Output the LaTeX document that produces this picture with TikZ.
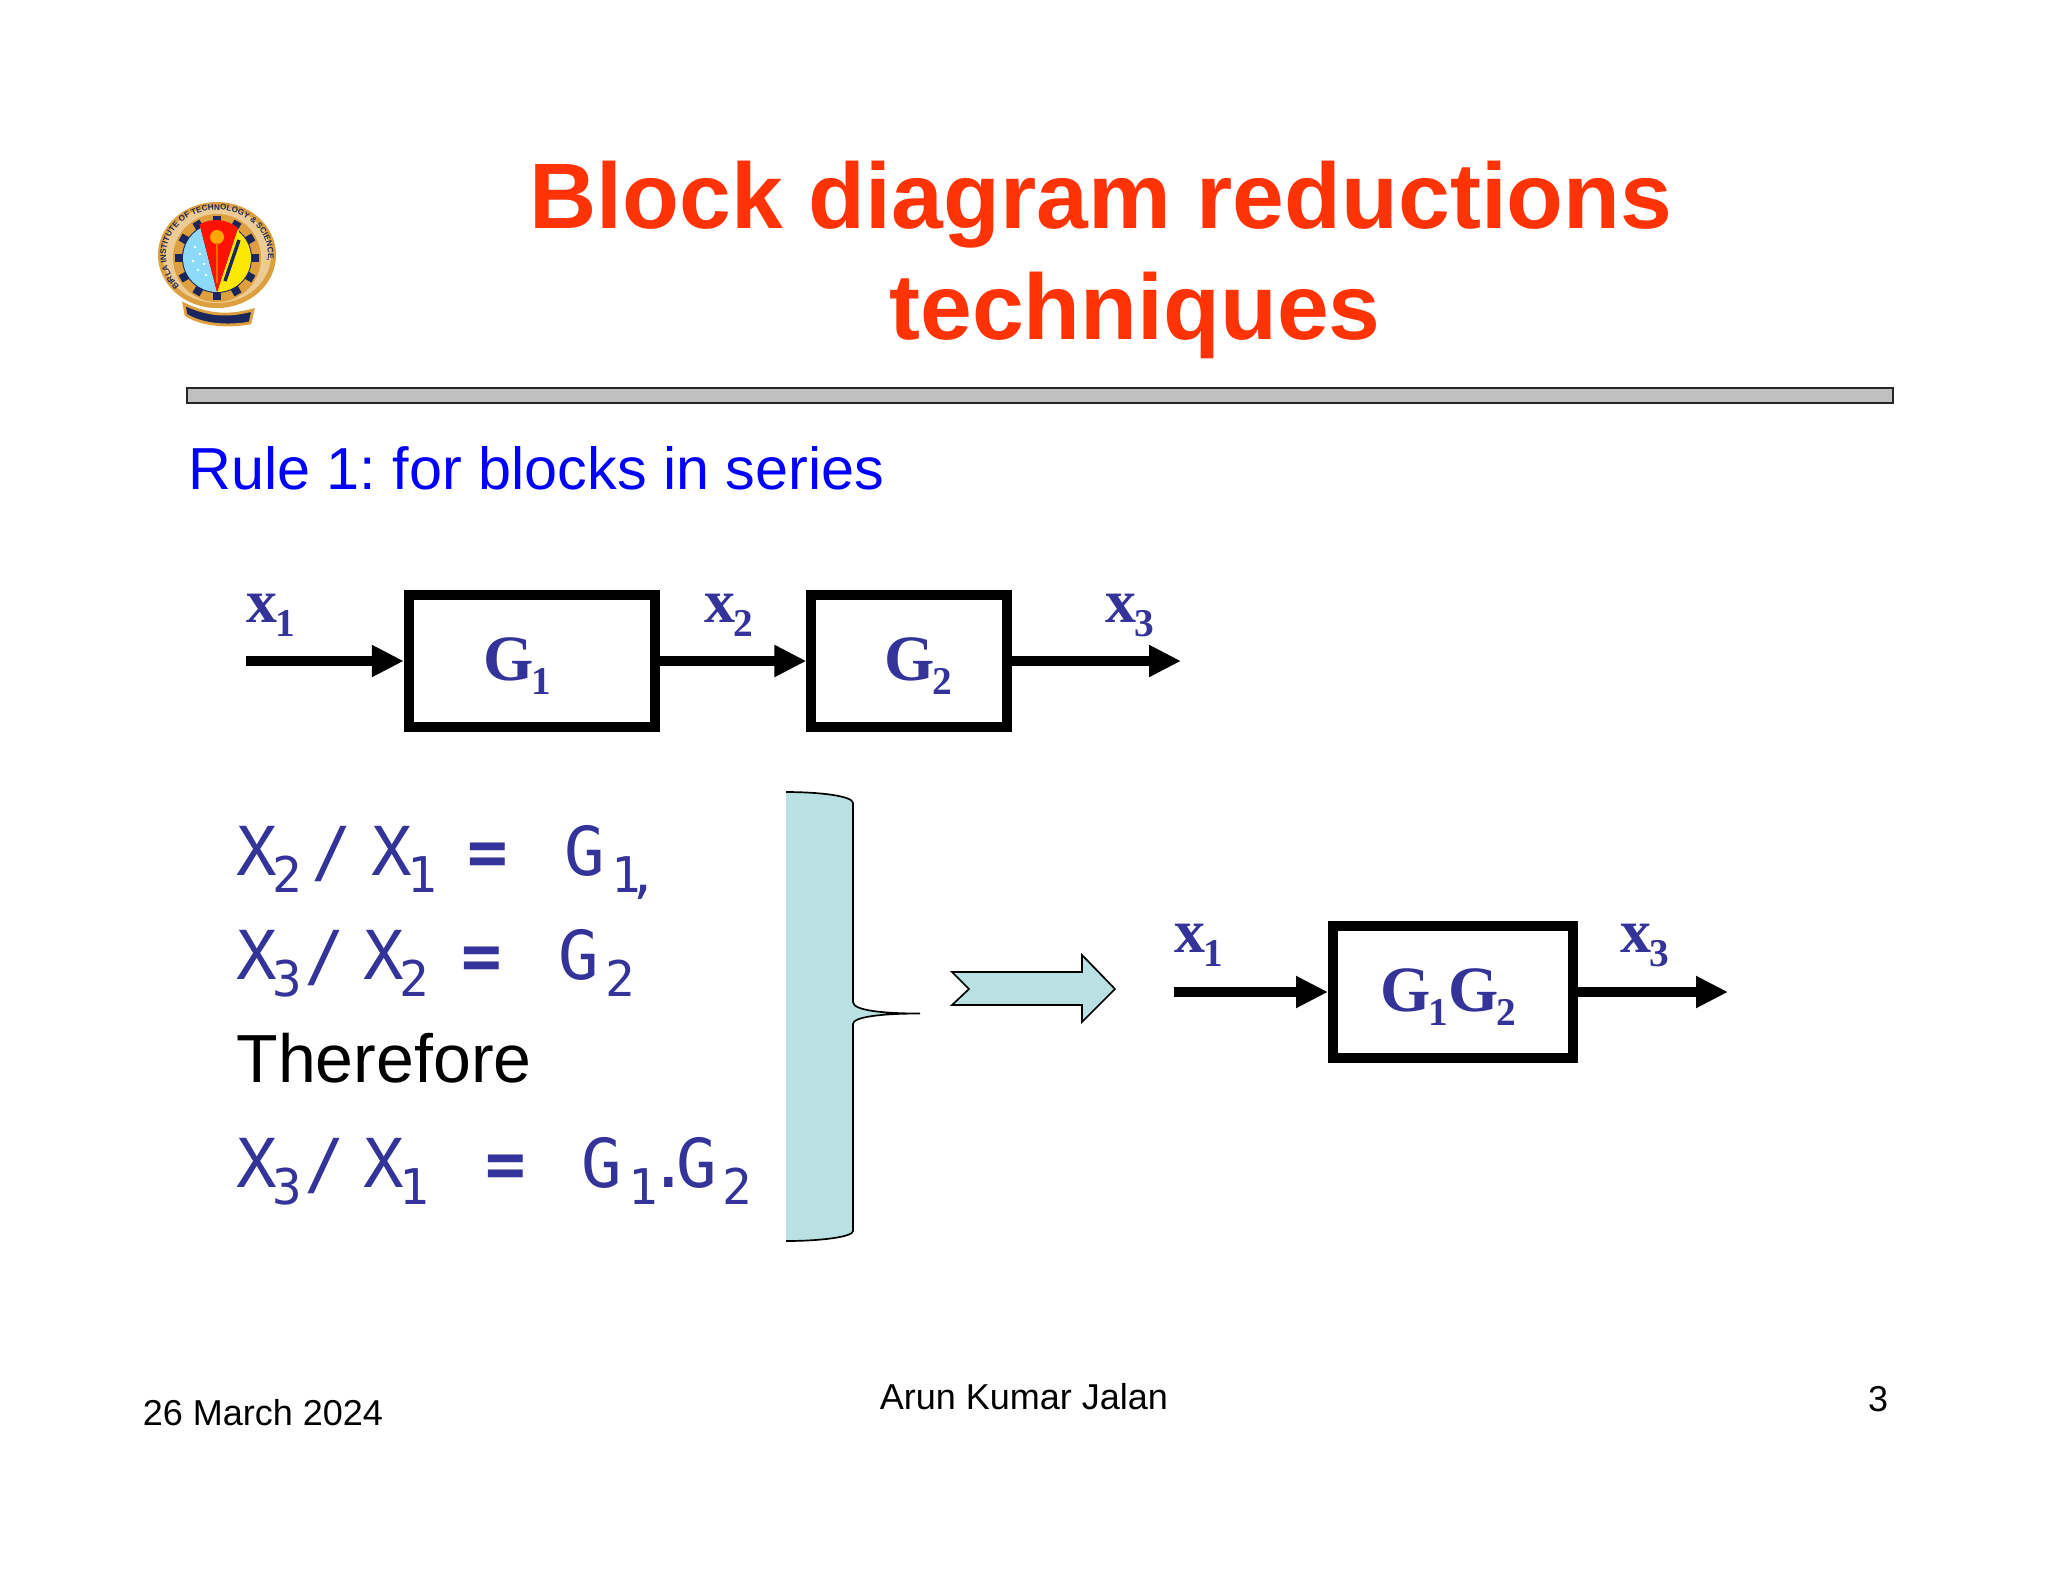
\documentclass[tikz,border=0pt]{standalone}
\usepackage{fontspec}
\usetikzlibrary{arrows.meta,decorations.text}
\setmainfont{Liberation Sans}
\newfontfamily\blockfont{Liberation Serif}[BoldFont={Liberation Serif Bold}]
\newfontfamily\eqfont{DejaVu Sans Mono}[BoldFont={DejaVu Sans Mono Bold}]
\definecolor{titlered}{RGB}{255,51,6}
\definecolor{ruleblue}{RGB}{0,0,255}
\definecolor{sigblue}{RGB}{51,51,153}
\definecolor{bracefill}{RGB}{185,224,226}
\definecolor{bargray}{RGB}{192,192,192}
\definecolor{logonavy}{RGB}{27,38,92}
\definecolor{logogold}{RGB}{222,160,62}
% subscripts of the block labels and of the equations
\newcommand{\bsub}[1]{\hspace{-0.8pt}\raisebox{-5.3pt}{\fontsize{14}{15}\selectfont #1}}
\newcommand{\esub}[1]{\hspace{-1.5pt}\raisebox{-6.2pt}{\fontsize{17.5}{18}\selectfont #1}}
\newcommand{\gsub}[1]{\hspace{2.2pt}\raisebox{-6.2pt}{\fontsize{17.5}{18}\selectfont #1}}

\begin{document}
\begin{tikzpicture}[x=0.125mm,y=-0.125mm,
   blk/.style={draw,line width=3.56pt,inner sep=0pt},
   sig/.style={line width=3.56pt,-{Triangle[length=4mm,width=3.75mm]}},
   lab/.style={anchor=base west,inner sep=0pt,font=\blockfont\bfseries\fontsize{22}{23}\selectfont,text=sigblue},
   gtxt/.style={anchor=base west,inner sep=0pt,font=\blockfont\bfseries\fontsize{23}{24}\selectfont,text=sigblue},
   eqn/.style={anchor=base west,inner sep=0pt,font=\eqfont\fontsize{24}{25}\selectfont,text=sigblue},
   eqs/.style={anchor=base west,inner sep=0pt,font=\eqfont\bfseries\fontsize{24}{25}\selectfont,text=sigblue},
   ttl/.style={anchor=base,inner sep=0pt,text=titlered,font=\bfseries\fontsize{33.1}{34}\selectfont},
   foot/.style={anchor=base,inner sep=0pt,font=\fontsize{12.8}{14}\selectfont}]
\fill[white] (0,0) rectangle (2048,1582);
\useasboundingbox (0,0) rectangle (2048,1582);

%% ---- title and bar ----
\node[ttl] (title1) at (1101,228) {Block diagram reductions};
\node[ttl] (title2) at (1135,339) {techniques};
\fill[bargray,draw=black!85,line width=0.6pt] (187,388) rectangle (1893,403);
\node[anchor=base west,inner sep=0pt,text=ruleblue,font=\fontsize{21.1}{22}\selectfont] (rule) at (188,489) {Rule 1:\hspace{-2pt} for blocks in series};

%% ---- logo ----
\begin{scope}[shift={(217,255)}]
  \fill[logogold] (0,0) ellipse [x radius=59,y radius=53];
  \fill[white!45!logogold] (0,0) ellipse [x radius=54,y radius=48];
  \fill[logogold] (0,3) circle [radius=44];
  \foreach \a in {0,30,...,330}
    \fill[logonavy,rotate around={\a:(0,3)}] (-4,-39) rectangle (4,-29);
  \fill[logonavy] (0,3) circle [radius=35];
  \fill[cyan!45!white] (-17,-29) -- (0,37) arc [start angle=90,end angle=240,radius=34] -- cycle;
  \fill[yellow!90!orange] (21,-27) -- (0,37) arc [start angle=90,end angle=-50,radius=34] -- cycle;
  \fill[red!85!orange] (-17,-29) -- (0,37) -- (21,-27) arc [start angle=-50,end angle=-120,radius=34] -- cycle;
  \foreach \px/\py in {-22/-8,-17/-1,-24/6,-13/9,-19/15,-11/20}
    \fill[white] (\px,\py) circle [radius=1.4];
  \fill[orange!70!yellow] (0,-18) circle [radius=7];
  \draw[orange!80!red,line width=1pt] (0,-12) -- (0,28);
  \draw[logonavy,line width=1.2pt] (22,-15) -- (8,26);
  \fill[logonavy,draw=logogold,line width=1pt] (-33,49) .. controls (-10,60) and (10,62) .. (36,55)
     -- (33,68) .. controls (10,72) and (-15,70) .. (-31,60) -- cycle;
  \path[decorate,decoration={text along path,text align=center,
     text={|\fontsize{2.9}{3}\selectfont\bfseries\color{logonavy}|BIRLA INSTITUTE OF TECHNOLOGY {\&} SCIENCE, PILANI}}]
     (0,0) ++(170:51 and 45) arc [start angle=170,end angle=370,x radius=51,y radius=45];
\end{scope}

%% ---- blocks in series ----
\coordinate (in) at (246,661);
\coordinate (out) at (1181,661);
\node[blk,minimum width=30.8mm,minimum height=16.5mm] (g1) at (532,661) {};
\node[blk,minimum width=24.4mm,minimum height=16.5mm] (g2) at (909,661) {};
\node[gtxt] (g1txt) at (483,680) {G\bsub{1}};
\node[gtxt] (g2txt) at (884,680) {G\bsub{2}};
\draw[sig] (in) -- (g1);
\draw[sig] (g1) -- (g2);
\draw[sig] (g2) -- (out);
\node[lab] (x1) at (246,622) {x\bsub{1}};
\node[lab] (x2) at (704,622) {x\bsub{2}};
\node[lab] (x3) at (1105,622) {x\bsub{3}};

%% ---- equations ----
\node[eqn] (e1a) at (236,875) {X\esub{2}\hspace{3pt}/\hspace{7pt}X\esub{1}};
\node[eqs] (e1b) at (467,875) {=};
\node[eqn] (e1c) at (564,875) {G\gsub{1\hspace{-4.5pt},}};
\node[eqn] (e2a) at (236,979) {X\esub{3}\hspace{0.6pt}/\hspace{6.5pt}X\esub{2}};
\node[eqs] (e2b) at (461,979) {=};
\node[eqn] (e2c) at (558,979) {G\gsub{2}};
\node[anchor=base west,inner sep=0pt,font=\fontsize{24.2}{25}\selectfont] (e3) at (236,1082) {Therefore};
\node[eqn] (e4a) at (236,1187) {X\esub{3}\hspace{0.6pt}/\hspace{6.5pt}X\esub{1}};
\node[eqs] (e4b) at (485,1187) {=};
\node[eqn] (e4c) at (581,1187) {G\gsub{1}\hspace{-3.5pt}.\hspace{-4.5pt}G\gsub{2}};

%% ---- brace and hollow arrow ----
\fill[bracefill] (786,792) .. controls (820,792) and (853,796) .. (853,803) -- (853,1002)
   .. controls (853,1010) and (880,1013.5) .. (920,1013.5) .. controls (880,1013.5) and (853,1017) .. (853,1024)
   -- (853,1231) .. controls (853,1237) and (820,1241) .. (786,1241) -- cycle;
\draw[line width=0.6pt] (786,792) .. controls (820,792) and (853,796) .. (853,803) -- (853,1002)
   .. controls (853,1010) and (880,1013.5) .. (920,1013.5) .. controls (880,1013.5) and (853,1017) .. (853,1024)
   -- (853,1231) .. controls (853,1237) and (820,1241) .. (786,1241);
\draw[fill=bracefill,line width=0.6pt] (952,972) -- (1082,972) -- (1082,955) -- (1115,989) -- (1082,1022) -- (1082,1005)
   -- (952,1005) -- (969,989) -- cycle;

%% ---- reduced block ----
\coordinate (inb) at (1174,992);
\coordinate (outb) at (1728,992);
\node[blk,minimum width=30mm,minimum height=16.4mm] (g12) at (1453,992) {};
\node[gtxt] (g12txt) at (1380,1011) {G\bsub{1}G\bsub{2}};
\draw[sig] (inb) -- (g12);
\draw[sig] (g12) -- (outb);
\node[lab] (x1b) at (1174,952) {x\bsub{1}};
\node[lab] (x3b) at (1620,952) {x\bsub{3}};

%% ---- footer ----
\node[foot] (date) at (263,1425) {26 March 2024};
\node[foot] (name) at (1024,1409) {Arun Kumar Jalan};
\node[foot] (page) at (1878,1411) {3};
\end{tikzpicture}
\end{document}
